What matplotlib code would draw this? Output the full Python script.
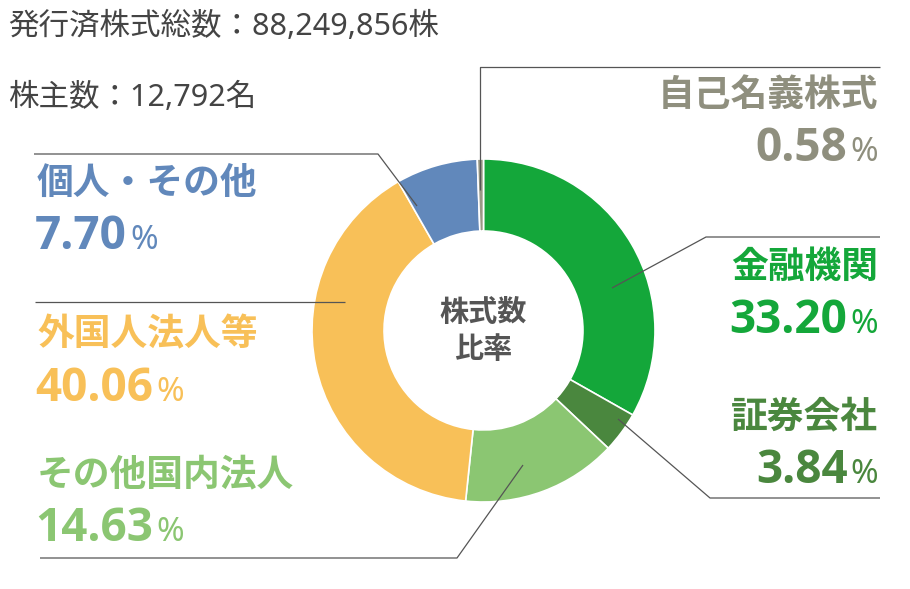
import matplotlib
matplotlib.use("Agg")
import matplotlib.pyplot as plt

plt.rcParams["font.family"] = ["Noto Sans CJK JP", "DejaVu Sans"]
LATIN = ["Noto Sans", "Noto Sans CJK JP"]
LATIN_BOLD = ["Open Sans", "Noto Sans CJK JP"]

# data, clockwise from 12 o'clock
categories = ["金融機関", "証券会社", "その他国内法人", "外国人法人等", "個人・その他", "自己名義株式"]
shares = [33.20, 3.84, 14.63, 40.06, 7.70, 0.58]
colors = ["#14a73a", "#4a873e", "#8bc672", "#f8c058", "#6188bb", "#999985"]
text_colors = ["#14a73a", "#4a873e", "#8bc672", "#f8c058", "#6188bb", "#8f8f7e"]
header_lines = ["発行済株式総数：88,249,856株", "株主数：12,792名"]
center_label = "株式数\n比率"

W, H = 910, 589
CX, CY, R = 483.5, 330.5, 171.5
LINE = "#555555"


def Y(y):
    # pixel row (top-down) -> axes y
    return H - y


fig = plt.figure(figsize=(W / 100, H / 100), dpi=100)
ax = fig.add_axes([0, 0, 1, 1])

ax.pie(shares, colors=colors, startangle=90, counterclock=False,
       radius=R, center=(CX, Y(CY)),
       wedgeprops=dict(width=R * 0.42, edgecolor="white", linewidth=1.2))

# pie() resets the limits, so set the pixel frame afterwards
ax.set_xlim(0, W)
ax.set_ylim(0, H)
ax.set_aspect("equal")
ax.axis("off")

ax.text(CX, Y(CY), center_label, ha="center", va="center", fontsize=21,
        fontweight="bold", color="#555555", linespacing=1.3)

for i, line in enumerate(header_lines):
    ax.text(8, Y(27 + 71 * i), line, ha="left", va="center", fontsize=22,
            color="#444444", family=LATIN)

# leader lines (label layout)
leaders = {
    "金融機関": [(612, 288), (706, 237), (880, 237)],
    "証券会社": [(618, 419), (710, 498), (880, 498)],
    "その他国内法人": [(523, 465), (457, 558), (40, 558)],
    "外国人法人等": [(345, 302), (35, 302)],
    "個人・その他": [(417, 206), (378, 154), (34, 154)],
    "自己名義株式": [(480, 190), (480, 67), (880, 67)],
}
for name, pts in leaders.items():
    xs = [p[0] for p in pts]
    ys = [Y(p[1]) for p in pts]
    ax.plot(xs, ys, color=LINE, lw=0.9, solid_capstyle="butt")

# label positions: (x, label y, side)
label_pos = {
    "金融機関": (878, 267, "right"),
    "証券会社": (878, 417, "right"),
    "その他国内法人": (37, 475, "left"),
    "外国人法人等": (37, 335, "left"),
    "個人・その他": (37, 183, "left"),
    "自己名義株式": (878, 95, "right"),
}

fig.canvas.draw()
renderer = fig.canvas.get_renderer()
inv = ax.transData.inverted()

for name, val, tc in zip(categories, shares, text_colors):
    x, y, side = label_pos[name]
    ax.text(x, Y(y), name, ha=side, va="center", fontsize=26.5,
            fontweight="bold", color=tc)
    base = Y(y + 66)
    num = f"{val:.2f}"
    if side == "right":
        pct = ax.text(x, base, "%", ha="right", va="baseline", fontsize=24,
                      color=tc, family=LATIN)
        bb = pct.get_window_extent(renderer)
        px0 = inv.transform((bb.x0, bb.y0))[0]
        ax.text(px0 - 3, base, num, ha="right", va="baseline", fontsize=33,
                fontweight="bold", color=tc, family=LATIN_BOLD)
    else:
        t = ax.text(x - 2, base, num, ha="left", va="baseline", fontsize=33,
                    fontweight="bold", color=tc, family=LATIN_BOLD)
        bb = t.get_window_extent(renderer)
        px1 = inv.transform((bb.x1, bb.y0))[0]
        ax.text(px1 + 3, base, "%", ha="left", va="baseline", fontsize=24,
                color=tc, family=LATIN)

fig.savefig("out.png", dpi=100)
